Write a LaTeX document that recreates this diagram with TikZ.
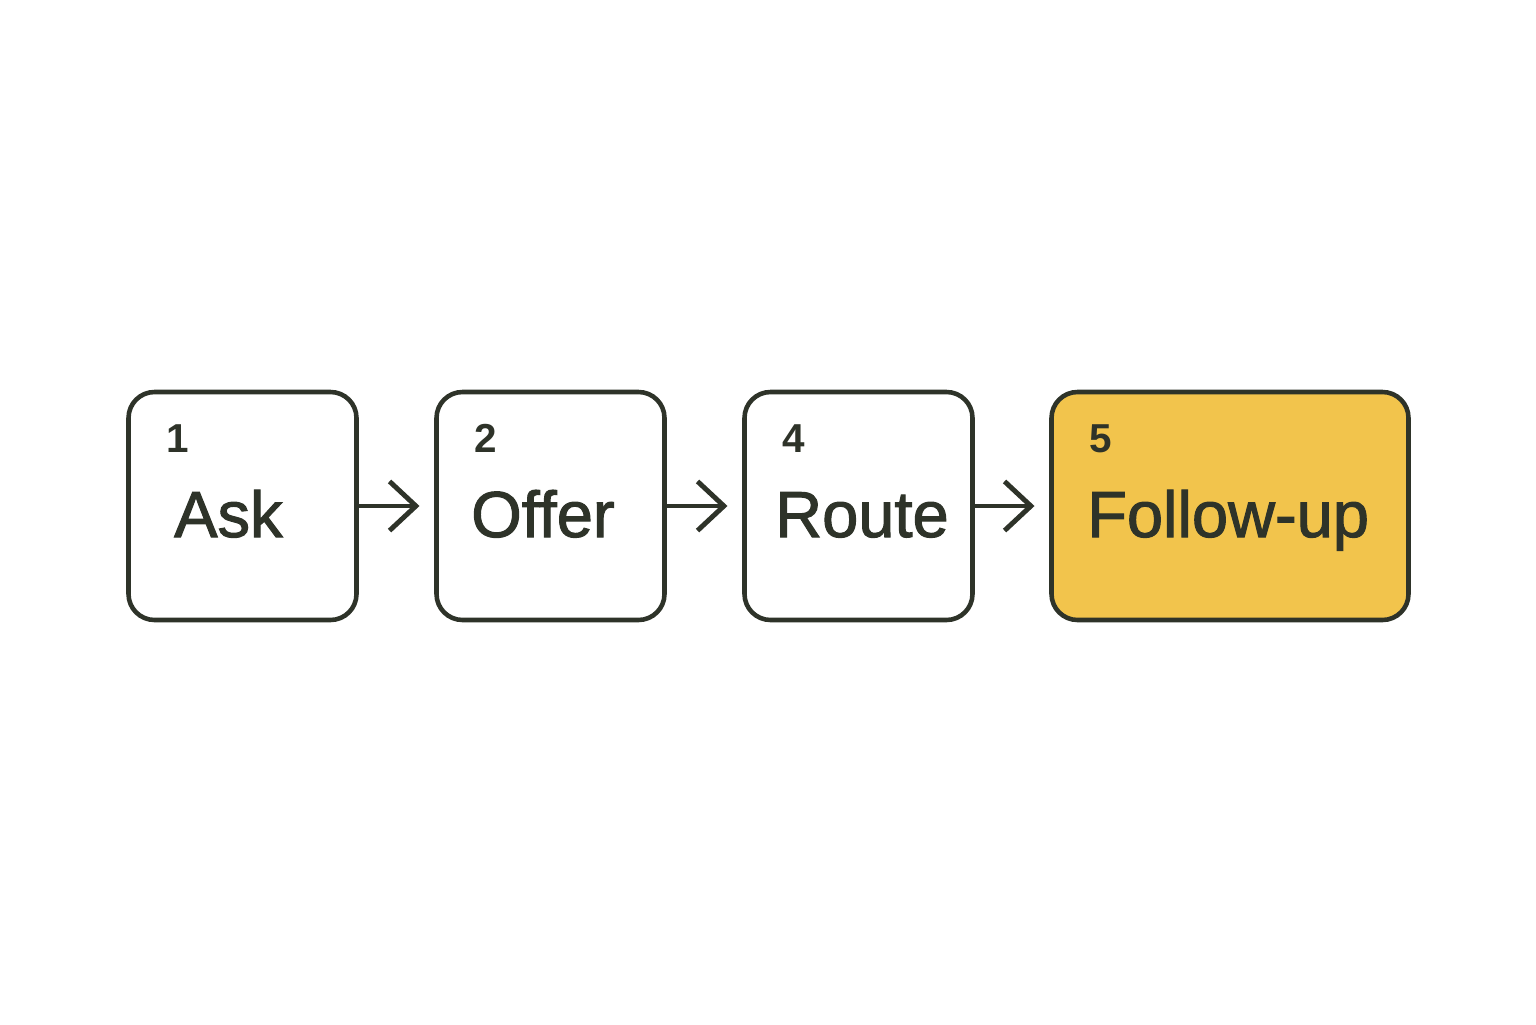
\documentclass[tikz,border=0pt]{standalone}
\usepackage{fontspec}
\setmainfont{Liberation Sans}
\newfontfamily\stepfont[FakeBold=1.6]{Liberation Sans}
\usetikzlibrary{positioning}
\usetikzlibrary{arrows.meta}
\definecolor{inkdark}{HTML}{2E3329}
\definecolor{stepyellow}{HTML}{F2C44C}
\tikzset{stepbox/.style={rectangle,rounded corners=0.26cm,draw=inkdark,line width=1.3pt,fill=white,minimum width=2.28cm,minimum height=2.28cm, inner sep=0pt, outer sep=0pt},}
\tikzset{numlabel/.style={anchor=base west,inner sep=0pt,text=inkdark,font=\fontsize{11.5}{12}\selectfont\bfseries},}
\tikzset{steplabel/.style={anchor=base west,inner sep=0pt,text=inkdark,font=\fontsize{18.5}{20}\stepfont},}

\begin{document}
\begin{tikzpicture}
     \useasboundingbox (0,0) rectangle (15.36,10.24);
     \node[stepbox] (ask) at (2.425,5.18) {};
     \node[stepbox] (offer) [right = 0.8cm of ask] {};
     \node[stepbox] (route) [right = 0.8cm of offer] {};
     \node[stepbox, fill=stepyellow, minimum width=3.57cm] (follow) [right = 0.79cm of route] {};

     \node[numlabel] (n1) at ([xshift=0.37cm,yshift=-0.6cm]ask.north west) {1};
     \node[numlabel] (n2) at ([xshift=0.37cm,yshift=-0.6cm]offer.north west) {2};
     \node[numlabel] (n4) at ([xshift=0.37cm,yshift=-0.6cm]route.north west) {4};
     \node[numlabel] (n5) at ([xshift=0.37cm,yshift=-0.6cm]follow.north west) {5};

     \node[steplabel] (l1) at ([xshift=0.45cm,yshift=-1.45cm]ask.north west) {Ask};
     \node[steplabel] (l2) at ([xshift=0.34cm,yshift=-1.45cm]offer.north west) {Offer};
     \node[steplabel] (l4) at ([xshift=0.30cm,yshift=-1.45cm]route.north west) {Route};
     \node[steplabel] (l5) at ([xshift=0.35cm,yshift=-1.45cm]follow.north west) {Follow-up};

     \path[-{Straight Barb[length=7.5pt,width=14pt]},line width=1.4pt,draw=inkdark]
     (ask) edge ([xshift=-0.17cm]offer.west)
     (offer) edge ([xshift=-0.17cm]route.west)
     (route) edge ([xshift=-0.17cm]follow.west);
  \end{tikzpicture}
\end{document}
